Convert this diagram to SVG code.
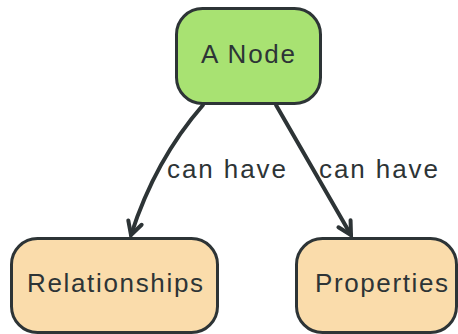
<svg xmlns="http://www.w3.org/2000/svg" width="458" height="334" viewBox="0 0 458 334">
<style>
.node rect{stroke:#2d3436;stroke-width:3}
.green{fill:#a8e272}
.peach{fill:#fadcab}
text{font-family:"Liberation Sans",Arial,sans-serif;fill:#2d3436;text-anchor:middle}
.nt{font-size:26px}
.lbl{font-size:26px}
.edge{fill:none;stroke:#2d3436;stroke-width:4;stroke-linecap:round}
</style>
<defs>
<marker id="arr" markerUnits="userSpaceOnUse" markerWidth="20" markerHeight="20" refX="16" refY="10" orient="auto">
<path d="M3,3 L16,10 L3,17" fill="none" stroke="#2d3436" stroke-width="4" stroke-linecap="round" stroke-linejoin="miter"/>
</marker>
</defs>
<g id="connectors">
<path class="edge" d="M203,105 Q155,160 131,235" marker-end="url(#arr)"/>
<path class="edge" d="M276,105 L351,235" marker-end="url(#arr)"/>
<text class="lbl" x="226.5" y="178" textLength="119" lengthAdjust="spacing">can have</text>
<text class="lbl" x="378.5" y="178" textLength="119" lengthAdjust="spacing">can have</text>
</g>
<g id="node-a" class="node">
<rect class="green" x="176.5" y="8.5" width="144" height="95" rx="26"/>
<text class="nt" x="248" y="63" textLength="94" lengthAdjust="spacing">A Node</text>
</g>
<g id="node-relationships" class="node">
<rect class="peach" x="11.5" y="238.5" width="206" height="94" rx="26"/>
<text class="nt" x="115" y="292" textLength="176" lengthAdjust="spacing">Relationships</text>
</g>
<g id="node-properties" class="node">
<rect class="peach" x="296.5" y="238.5" width="160" height="94" rx="26"/>
<text class="nt" x="381.5" y="292" textLength="133" lengthAdjust="spacing">Properties</text>
</g>
</svg>
